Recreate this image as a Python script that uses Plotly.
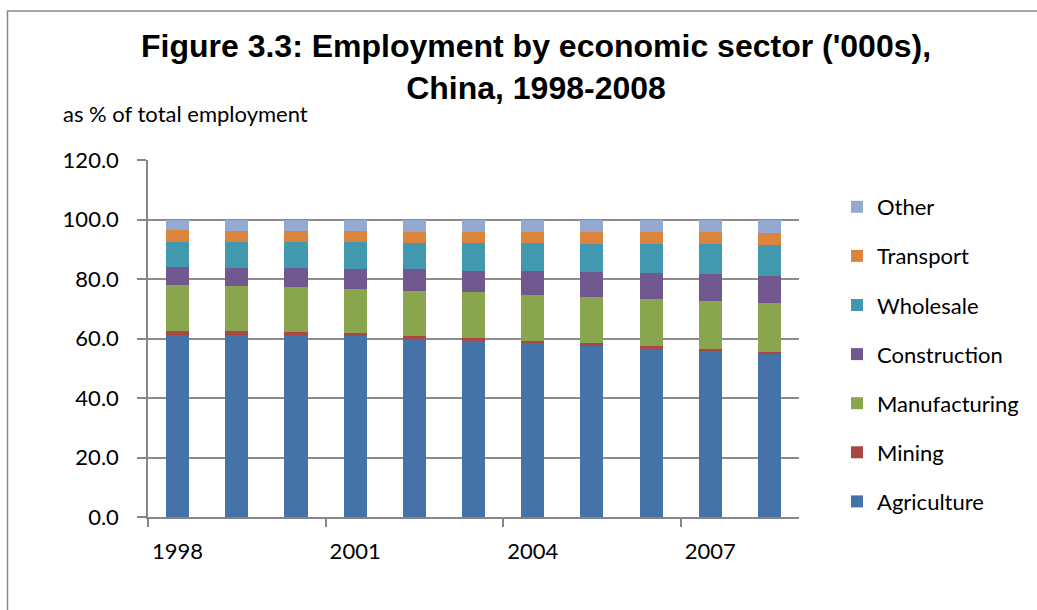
import plotly.graph_objects as go

# Employment shares by sector, % of total employment
years = [1998, 1999, 2000, 2001, 2002, 2003, 2004, 2005, 2006, 2007, 2008]
agriculture = [61.3, 61.3, 61.3, 60.9, 59.7, 59.2, 58.4, 57.5, 56.6, 55.7, 54.7]
mining = [1.2, 1.3, 1.0, 0.9, 1.0, 0.9, 0.9, 0.9, 1.0, 0.9, 0.9]
manufacturing = [15.5, 14.9, 15.0, 15.0, 15.3, 15.4, 15.4, 15.7, 15.8, 16.1, 16.3]
construction = [6.1, 6.3, 6.5, 6.7, 7.2, 7.3, 7.9, 8.1, 8.5, 8.9, 9.2]
wholesale = [8.4, 8.7, 8.7, 8.8, 9.0, 9.3, 9.4, 9.7, 10.0, 10.1, 10.4]
transport = [3.9, 3.8, 3.7, 3.9, 3.7, 3.8, 3.9, 3.9, 3.9, 4.0, 4.1]
other = [3.6, 3.7, 3.8, 3.8, 4.1, 4.1, 4.1, 4.2, 4.2, 4.3, 4.4]

label_years = [1998, 2001, 2004, 2007]
y_ticks = [0, 20, 40, 60, 80, 100, 120]

series = [
    ("Agriculture", agriculture, "#4572A7"),
    ("Mining", mining, "#AA4643"),
    ("Manufacturing", manufacturing, "#89A54E"),
    ("Construction", construction, "#71588F"),
    ("Wholesale", wholesale, "#4198AF"),
    ("Transport", transport, "#DB843D"),
    ("Other", other, "#93A9CF"),
]

W, H = 1037, 610
AXIS = "#868686"
FONT = "Lato"

fig = go.Figure()
n = len(series)
for i, (name, vals, col) in enumerate(series):
    fig.add_trace(go.Bar(
        x=years, y=vals, name=name, width=0.39,
        marker=dict(color=col, line=dict(width=0)),
        legendgroup=name, legendrank=(n - i) * 10,
    ))

# plot area in pixels: left 148, right 799, top 160, bottom 517
x0p, x1p, ytop, ybot = 148, 799, 160, 517

fig.update_layout(
    width=W, height=H, autosize=False,
    margin=dict(l=0, r=0, t=0, b=0, pad=0, autoexpand=False),
    paper_bgcolor="white", plot_bgcolor="white",
    barmode="stack", bargap=0,
    font=dict(family=FONT, size=22, color="black"),
    title=dict(
        text="Figure 3.3: Employment by economic sector ('000s),<br>China, 1998-2008",
        font=dict(family="Liberation Sans", size=32, color="black", weight="bold"),
        x=536 / W, xanchor="center",
        y=1 - 57 / H, yanchor="middle", yref="container",
    ),
    xaxis=dict(
        domain=[x0p / W, x1p / W],
        range=[1997.5, 2008.5],
        tickvals=label_years, ticktext=[str(y) for y in label_years],
        ticks="", ticklabelstandoff=14,
        minor=dict(tickvals=[y - 0.5 for y in label_years], ticks="outside",
                   ticklen=8, tickwidth=1.5, tickcolor=AXIS, showgrid=False),
        showline=True, linecolor=AXIS, linewidth=1.5,
        showgrid=False, zeroline=False, automargin=False,
        tickfont=dict(family=FONT, size=22),
        fixedrange=True,
    ),
    yaxis=dict(
        domain=[1 - ybot / H, 1 - ytop / H],
        range=[0, 120], tickvals=y_ticks, tickformat=".1f",
        ticks="outside", ticklen=9, tickwidth=1.5, tickcolor=AXIS,
        ticklabelstandoff=14,
        showline=True, linecolor=AXIS, linewidth=1.5,
        showgrid=True, gridcolor="#8c8c8c", gridwidth=1.5,
        zeroline=False, automargin=False,
        tickfont=dict(family=FONT, size=22),
        fixedrange=True,
    ),
    legend=dict(
        x=837 / W, xanchor="left", y=1 - 186 / H, yanchor="top",
        traceorder="grouped", tracegroupgap=17.5,
        font=dict(family=FONT, size=22),
        bgcolor="rgba(0,0,0,0)", borderwidth=0,
    ),
    showlegend=True,
)

fig.add_annotation(
    text="as % of total employment", xref="paper", yref="paper",
    x=61 / W, y=1 - 113 / H, xanchor="left", yanchor="middle",
    showarrow=False, font=dict(family=FONT, size=22, color="black"),
)

# outer chart-area border
fig.add_shape(
    type="rect", xref="paper", yref="paper",
    x0=7.5 / W, x1=1.02, y0=-0.02, y1=1 - 11 / H,
    line=dict(color=AXIS, width=1.5), fillcolor="rgba(0,0,0,0)", layer="below",
)

fig.write_html("out.html")
